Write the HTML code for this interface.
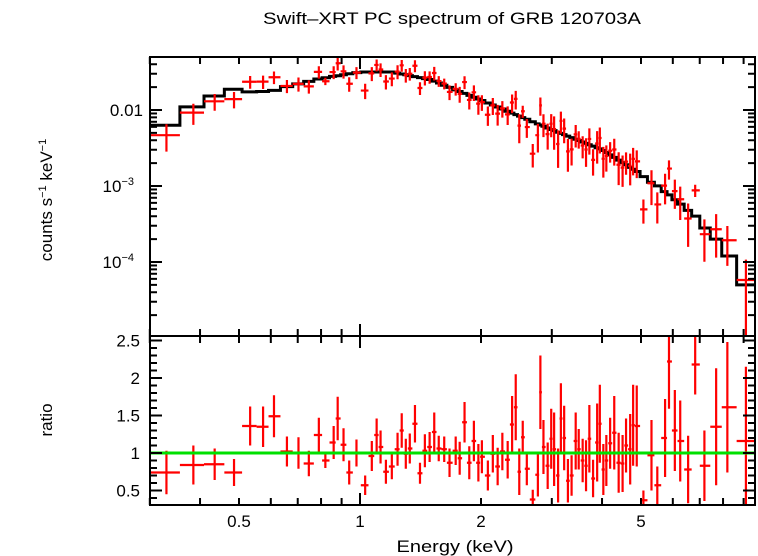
<!DOCTYPE html>
<html><head><meta charset="utf-8"><style>
html,body{margin:0;padding:0;background:#fff;}
svg{display:block;font-family:"Liberation Sans",sans-serif;}
</style></head><body>
<svg id="chart" width="758" height="556" viewBox="0 0 758 556" xmlns="http://www.w3.org/2000/svg">
<text x="452" y="24" font-size="17" text-anchor="middle" textLength="378" lengthAdjust="spacingAndGlyphs">Swift–XRT PC spectrum of GRB 120703A</text>
<text transform="translate(52,200) rotate(-90)" font-size="17" text-anchor="middle">counts s<tspan font-size="11" dy="-6">−1</tspan><tspan dy="6"> keV</tspan><tspan font-size="11" dy="-6">−1</tspan></text>
<text transform="translate(52,420) rotate(-90)" font-size="17" text-anchor="middle">ratio</text>
<text x="455" y="552" font-size="17" text-anchor="middle" textLength="117" lengthAdjust="spacingAndGlyphs">Energy (keV)</text>
<g id="topPanel"></g>
<g id="botPanel"></g>
</svg>
<script>
// model knots (keV, counts/s/keV)
const modelE = [0.3,0.33,0.385,0.435,0.48,0.53,0.6,0.65,0.8,1.0,1.2,1.5,2,3,4,4.9,5.2,5.6,6.2,6.8,7.19,7.69,8.2,9.12,9.6];
const modelV = [0.0063,0.0063,0.011,0.0153,0.019,0.0173,0.0176,0.02,0.026,0.0316,0.0316,0.025,0.0135,0.0055,0.0030,0.00153,0.0012,0.00094,0.0006,0.00041,0.00028,0.0002,0.00012,0.00005,0.00005];
// data bins
const energies = [0.33,0.385,0.435,0.486,0.533,0.574,0.611,0.658,0.703,0.746,0.79,0.82,0.86,0.88,0.91,0.94,0.98,1.03,1.07,1.1,1.125,1.16,1.2,1.24,1.27,1.3,1.33,1.37,1.41,1.45,1.49,1.53,1.57,1.62,1.67,1.73,1.77,1.82,1.87,1.92,1.97,2.01,2.08,2.14,2.2,2.26,2.33,2.39,2.44,2.49,2.54,2.6,2.69,2.77,2.81,2.86,2.93,2.99,3.04,3.11,3.16,3.22,3.29,3.36,3.44,3.5,3.58,3.65,3.72,3.8,3.89,3.95,4.03,4.1,4.19,4.29,4.4,4.5,4.59,4.7,4.78,4.88,5.07,5.31,5.49,5.74,5.87,6.07,6.26,6.55,6.82,7.19,7.69,8.2,9.12];
const ratios = [0.74,0.84,0.85,0.74,1.36,1.35,1.49,1.02,1.0,0.86,1.24,0.9,1.14,1.46,1.11,0.74,1.0,0.57,0.96,1.24,1.08,0.75,0.82,1.05,1.3,0.99,1.06,1.39,0.73,1.03,1.08,1.28,1.06,1.05,0.87,1.03,0.93,1.41,0.87,1.16,0.87,0.95,0.7,0.99,0.82,1.02,0.91,1.38,1.61,0.75,1.21,0.79,0.38,0.71,1.81,1.08,0.83,1.19,1.05,0.7,1.46,1.2,0.63,0.7,1.16,1.05,0.9,0.83,1.19,0.66,1.14,1.39,0.78,0.9,1.13,1.27,0.87,0.86,1.1,1.05,1.37,1.36,0.37,0.97,0.57,1.2,2.22,1.3,1.16,0.78,2.18,0.83,1.35,1.61,1.16];
const ratioErr = [0.29,0.26,0.21,0.18,0.26,0.27,0.28,0.2,0.21,0.17,0.23,0.1,0.22,0.29,0.22,0.16,0.18,0.13,0.2,0.22,0.22,0.16,0.17,0.22,0.23,0.2,0.2,0.25,0.14,0.22,0.2,0.26,0.17,0.17,0.19,0.19,0.22,0.27,0.22,0.27,0.25,0.22,0.2,0.25,0.25,0.25,0.25,0.38,0.44,0.31,0.22,0.22,0.13,0.29,0.49,0.36,0.31,0.4,0.49,0.36,0.47,0.43,0.29,0.27,0.38,0.27,0.29,0.34,0.45,0.25,0.52,0.52,0.34,0.34,0.34,0.49,0.4,0.38,0.36,0.47,0.54,0.54,0.13,0.47,0.25,0.52,0.63,0.54,0.54,0.45,0.4,0.47,0.78,0.87,0.99];
const xTicks = [0.5,1,2,5];
const xTickLabels = ["0.5","1","2","5"];
const ratioTicks = [0.5,1,1.5,2,2.5];
const ratioTickLabels = ["0.5","1","1.5","2","2.5"];

const L=150,R=755,T1=57,B1=336,T2=336,B2=505;
const X=e=>360+402*Math.log10(e);
const Y1=v=>110-76*Math.log10(v/0.01);
const Y2=r=>453-75*(r-1);
const NS="http://www.w3.org/2000/svg";
const svgRoot=document.getElementById('chart');
const topG=document.getElementById('topPanel'),botG=document.getElementById('botPanel');
function mk(p,tag,at){const el=document.createElementNS(NS,tag);for(const k in at)el.setAttribute(k,at[k]);p.appendChild(el);return el;}
function model(e){
  for(let i=0;i<modelE.length-1;i++){
    if(e<=modelE[i+1]||i==modelE.length-2){
      const t=(Math.log(e)-Math.log(modelE[i]))/(Math.log(modelE[i+1])-Math.log(modelE[i]));
      return Math.exp(Math.log(modelV[i])+t*(Math.log(modelV[i+1])-Math.log(modelV[i])));
    }
  }
}
const defs=mk(svgRoot,'defs',{});
const clipC=mk(defs,'clipPath',{id:'c1'});mk(clipC,'rect',{x:L,y:T1,width:R-L,height:B1-T1});
const clipD=mk(defs,'clipPath',{id:'c2'});mk(clipD,'rect',{x:L,y:T2,width:R-L,height:B2-T2});
const g1=mk(topG,'g',{'clip-path':'url(#c1)'});const g2=mk(botG,'g',{'clip-path':'url(#c2)'});
const edges=[0.3];
for(let i=0;i<energies.length-1;i++)edges.push(Math.sqrt(energies[i]*energies[i+1]));
edges.push(9.6);
let d="";
for(let i=0;i<energies.length;i++){
  const m=model(energies[i]);const y=Y1(m);
  d+=(i==0?"M":"L")+X(edges[i])+","+y+"L"+X(edges[i+1])+","+y;
}
const mp=mk(g1,'path',{d:d,fill:'none',stroke:'#000','stroke-width':3});


for(let i=0;i<energies.length;i++){
  const m=model(energies[i]);const c=m*ratios[i],ce=m*ratioErr[i];
  const x=X(energies[i]),x0=X(edges[i]),x1=X(edges[i+1]);
  const lo=Math.max(c-ce,1e-7);
  const p=mk(g1,'path',{d:`M${x0},${Y1(c)}H${x1}M${x},${Y1(c+ce)}V${Y1(lo)}`,stroke:'#f00','stroke-width':2.2,fill:'none'});
  
  
  const q=mk(g2,'path',{d:`M${x0},${Y2(ratios[i])}H${x1}M${x},${Y2(ratios[i]+ratioErr[i])}V${Y2(ratios[i]-ratioErr[i])}`,stroke:'#f00','stroke-width':2.2,fill:'none'});
  
  
}
const gl=mk(g2,'line',{x1:L,x2:R,y1:Y2(1),y2:Y2(1),stroke:'#00e000','stroke-width':3});


for(const [g,t,b] of [[topG,T1,B1],[botG,T2,B2]]){
  const f=mk(g,'rect',{x:L,y:t,width:R-L,height:b-t,fill:'none',stroke:'#000','stroke-width':2});
  
  
}
const axg=mk(svgRoot,'g',{stroke:'#000','stroke-width':2});


const minors=[0.3,0.4,0.5,0.6,0.7,0.8,0.9,1,2,3,4,5,6,7,8,9];
for(const e of minors){
  const x=X(e);const len=(e==1)?12:7;
  for(const [t,b] of [[T1,B1],[T2,B2]]){
    mk(axg,'line',{x1:x,x2:x,y1:t,y2:t+len});
    mk(axg,'line',{x1:x,x2:x,y1:b,y2:b-len});
  }
}
xTicks.forEach((e,i)=>{
  const t=mk(svgRoot,'text',{x:X(e),y:527,'font-size':17,'text-anchor':'middle'});
  t.textContent=xTickLabels[i];
  
  
});
for(let dec=-5;dec<=-1;dec++){
  for(let k=1;k<=9;k++){
    const v=k*Math.pow(10,dec);const y=Y1(v);
    if(y<T1||y>B1)continue;const len=k==1?12:7;
    mk(axg,'line',{x1:L,x2:L+len,y1:y,y2:y});mk(axg,'line',{x1:R,x2:R-len,y1:y,y2:y});
  }
}
const yl=[[0.01,"0.01",null],[0.001,"10","−3"],[0.0001,"10","−4"]];
for(const [v,b,s] of yl){
  const t=mk(svgRoot,'text',{x:s?134:143,y:Y1(v)+6,'font-size':17,'text-anchor':'end'});
  
  
  t.textContent=b;
  if(s){const ts=mk(t,'tspan',{'font-size':11,dy:-7});ts.textContent=s;}
}
for(let r=0.4;r<=2.55;r+=0.1){
  const y=Y2(r);if(y<T2||y>B2)continue;
  const major=Math.abs(r*2-Math.round(r*2))<0.01;const len=major?12:7;
  mk(axg,'line',{x1:L,x2:L+len,y1:y,y2:y});mk(axg,'line',{x1:R,x2:R-len,y1:y,y2:y});
}
ratioTicks.forEach((r,i)=>{
  const t=mk(svgRoot,'text',{x:140,y:Y2(r)+6,'font-size':17,'text-anchor':'end'});
  t.textContent=ratioTickLabels[i];
  
  
});
</script>
</body></html>
